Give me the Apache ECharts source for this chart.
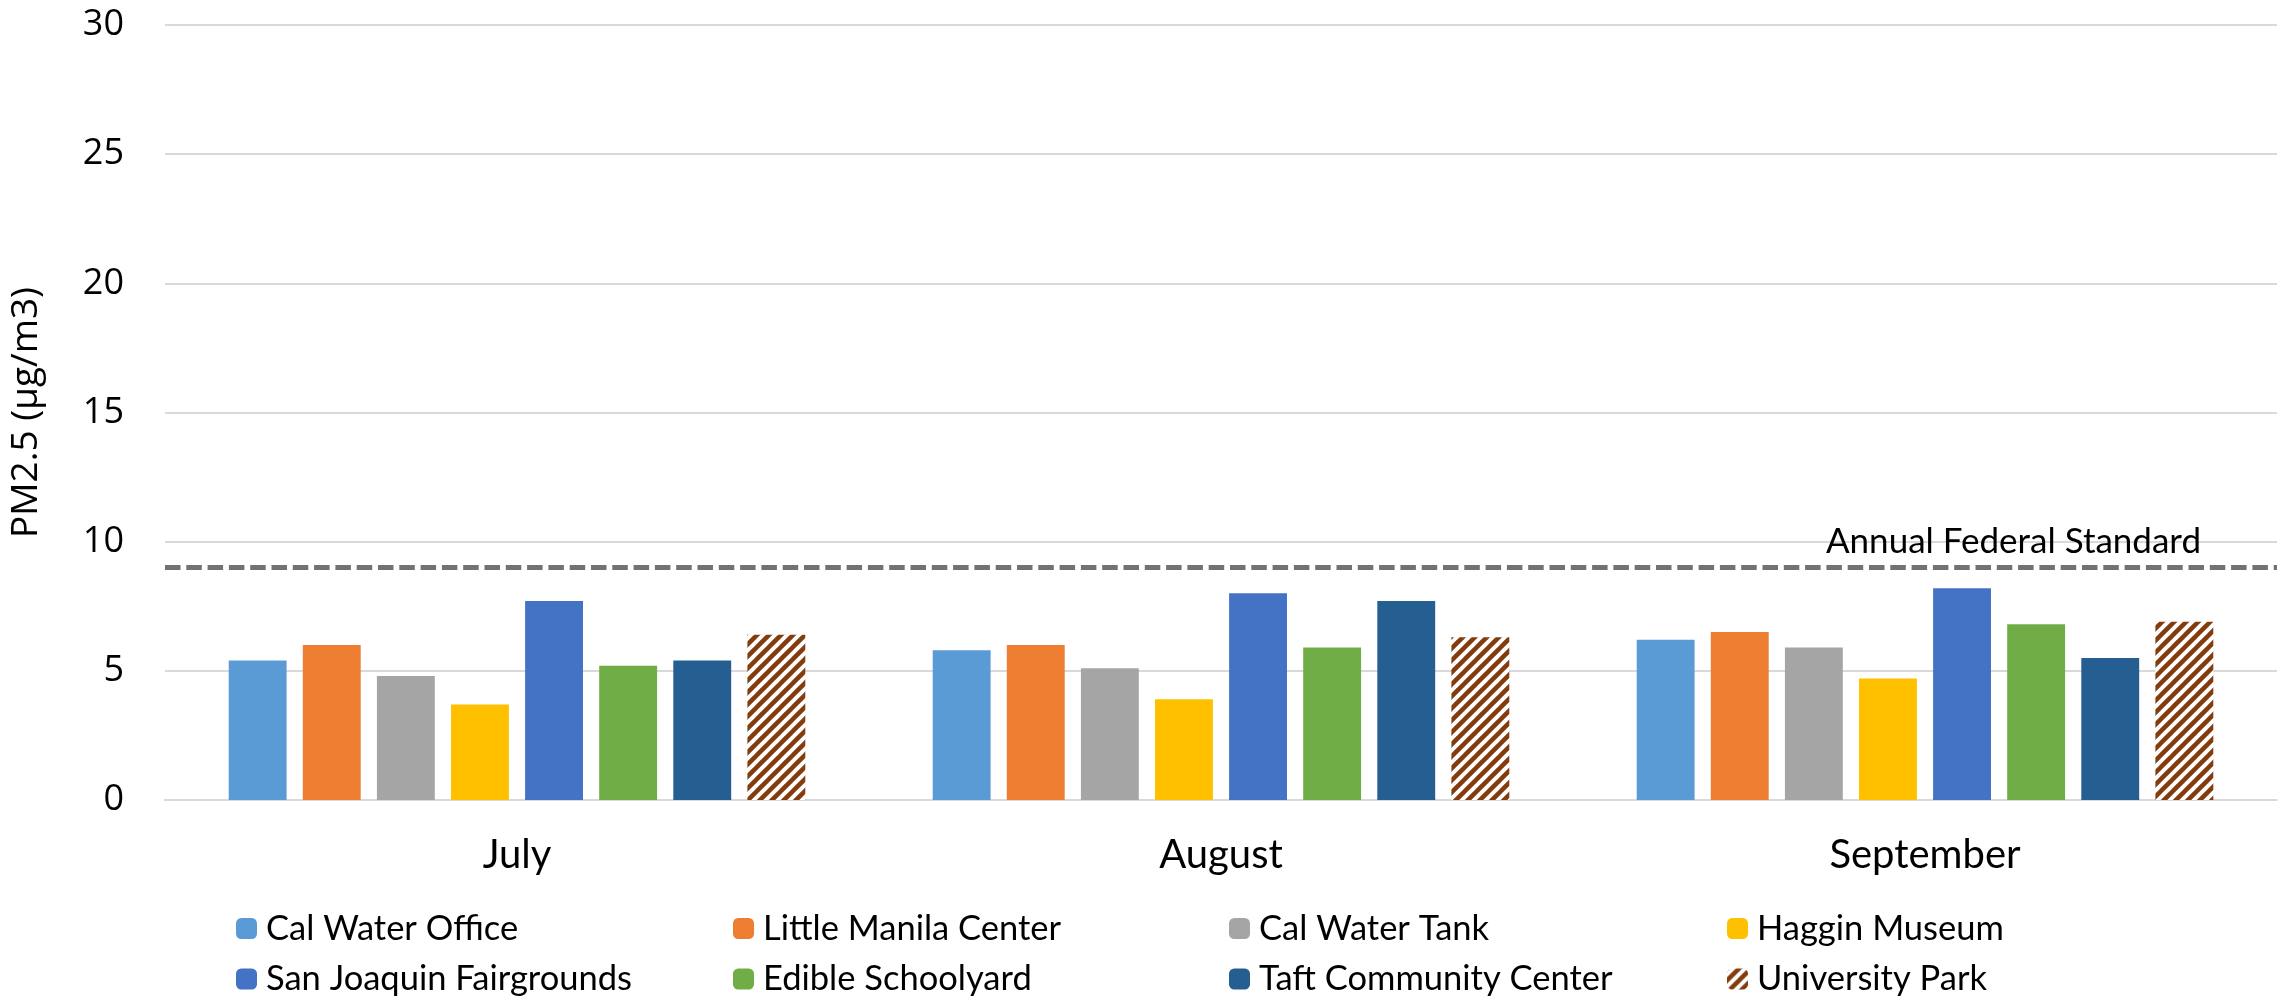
<!DOCTYPE html>
<html>
<head>
<meta charset="utf-8">
<script src="https://cdn.jsdelivr.net/npm/echarts@6/dist/echarts.min.js"></script>
<style>
  html, body { margin: 0; padding: 0; background: #fff; }
  #chart { width: 2282px; height: 997px; }
</style>
</head>
<body>
<div id="chart"></div>
<script>
// ---- Data ----
const months = ['July', 'August', 'September'];
const siteNames = ['Cal Water Office', 'Little Manila Center', 'Cal Water Tank', 'Haggin Museum',
                   'San Joaquin Fairgrounds', 'Edible Schoolyard', 'Taft Community Center', 'University Park'];
const calWaterOffice   = [5.4, 5.8, 6.2];
const littleManila     = [6.0, 6.0, 6.5];
const calWaterTank     = [4.8, 5.1, 5.9];
const hagginMuseum     = [3.7, 3.9, 4.7];
const sanJoaquin       = [7.7, 8.0, 8.2];
const edibleSchoolyard = [5.2, 5.9, 6.8];
const taftCommunity    = [5.4, 7.7, 5.5];
const universityPark   = [6.4, 6.3, 6.9];
const federalStandard = 9;
const standardLabel = 'Annual Federal Standard';
const yTicks = [0, 5, 10, 15, 20, 25, 30];

const siteValues = [calWaterOffice, littleManila, calWaterTank, hagginMuseum,
                    sanJoaquin, edibleSchoolyard, taftCommunity, universityPark];

// ---- Styles ----
function makeHatch() {
  const s = 12;
  const c = document.createElement('canvas');
  c.width = s; c.height = s;
  const ctx = c.getContext('2d');
  ctx.fillStyle = '#ffffff';
  ctx.fillRect(0, 0, s, s);
  ctx.strokeStyle = '#843C0C';
  ctx.lineWidth = 4.5;
  ctx.lineCap = 'square';
  [-s, 0, s].forEach(function (o) {
    ctx.beginPath();
    ctx.moveTo(o, s);
    ctx.lineTo(o + s, 0);
    ctx.stroke();
  });
  return c;
}
const hatch = { image: makeHatch(), repeat: 'repeat' };
const colors = ['#5B9BD5', '#ED7D31', '#A5A5A5', '#FFC000', '#4472C4', '#70AD47', '#255E91', hatch];

const textFont = 'Lato';
const numFont = 'Open Sans';

const series = siteNames.map(function (name, i) {
  const s = {
    name: name,
    type: 'bar',
    data: siteValues[i],
    barGap: '28%',
    barCategoryGap: '18.1%',
    itemStyle: { color: colors[i] },
    emphasis: { disabled: true }
  };
  if (i === 0) {
    s.markLine = {
      silent: true,
      symbol: ['none', 'none'],
      lineStyle: { color: '#767171', width: 5, type: [15.5, 5.8] },
      label: {
        show: true,
        position: 'insideEndTop',
        formatter: standardLabel,
        distance: [76, 8],
        color: '#000',
        fontFamily: textFont,
        fontSize: 35
      },
      data: [{ yAxis: federalStandard }]
    };
  }
  return s;
});

const legendLefts = [236, 733, 1229, 1727];
const legends = legendLefts.map(function (left, col) {
  return {
    orient: 'vertical',
    left: left,
    top: 911,
    padding: 0,
    itemWidth: 21,
    itemHeight: 21,
    itemGap: 15.5,
    selectedMode: false,
    data: [siteNames[col], siteNames[col + 4]],
    textStyle: { color: '#000', fontFamily: textFont, fontSize: 34.5, padding: [0, 0, 0, 4] }
  };
});

const chart = echarts.init(document.getElementById('chart'));
chart.setOption({
  animation: false,
  backgroundColor: '#fff',
  grid: { left: 151, right: 5, top: 25, bottom: 197 },
  legend: legends,
  xAxis: {
    type: 'category',
    data: months,
    axisLine: { show: true, lineStyle: { color: '#D9D9D9', width: 2 } },
    axisTick: { show: false },
    axisLabel: { color: '#000', fontFamily: textFont, fontSize: 40, margin: 35 }
  },
  yAxis: {
    type: 'value',
    min: yTicks[0],
    max: yTicks[yTicks.length - 1],
    interval: yTicks[1] - yTicks[0],
    name: 'PM2.5 (µg/m3)',
    nameLocation: 'middle',
    nameGap: 120,
    nameTextStyle: { color: '#000', fontFamily: numFont, fontSize: 37 },
    axisLine: { show: false },
    axisTick: { show: false },
    splitLine: { lineStyle: { color: '#D9D9D9', width: 2 } },
    axisLabel: { color: '#000', fontFamily: numFont, fontSize: 36, margin: 41 }
  },
  series: series
});
</script>
</body>
</html>
